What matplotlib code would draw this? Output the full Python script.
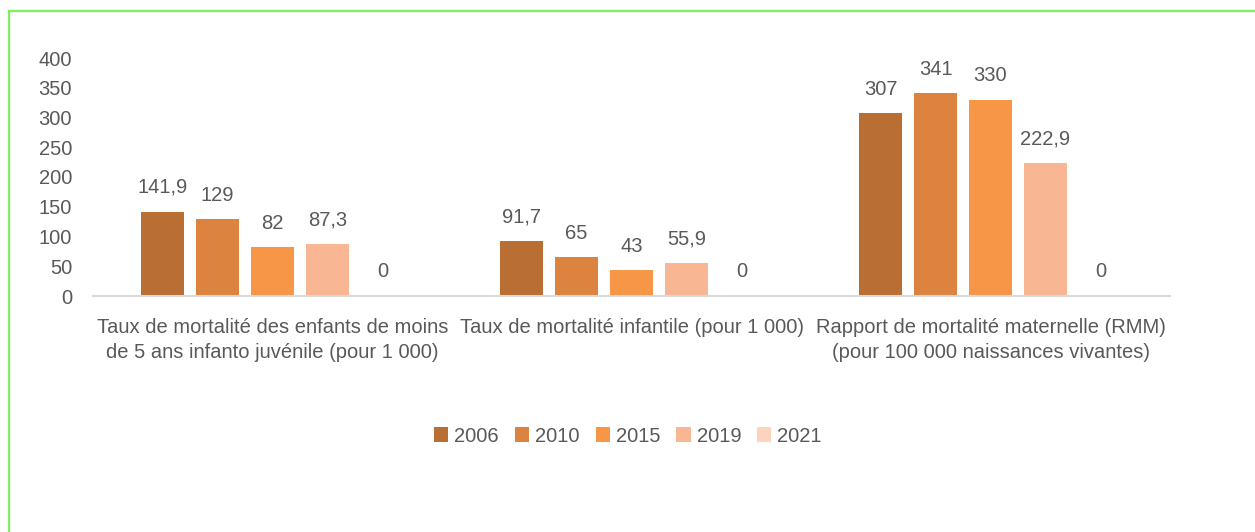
import matplotlib
matplotlib.use("Agg")
import matplotlib.pyplot as plt
from matplotlib.lines import Line2D
from matplotlib.patches import Patch
import numpy as np

categories = [
    "Taux de mortalité des enfants de moins\nde 5 ans infanto juvénile (pour 1 000)",
    "Taux de mortalité infantile (pour 1 000)",
    "Rapport de mortalité maternelle (RMM)\n(pour 100 000 naissances vivantes)",
]
years = ["2006", "2010", "2015", "2019", "2021"]
values = {
    "2006": [141.9, 91.7, 307],
    "2010": [129, 65, 341],
    "2015": [82, 43, 330],
    "2019": [87.3, 55.9, 222.9],
    "2021": [0, 0, 0],
}
yticks = [0, 50, 100, 150, 200, 250, 300, 350, 400]
colors = ["#B96F34", "#DB833F", "#F79646", "#F9B692", "#FCD3BF"]

plt.rcParams['font.family'] = ['Liberation Sans', 'DejaVu Sans']
txt = "#595959"

fig = plt.figure(figsize=(12.55, 5.32), dpi=100)
ax = fig.add_axes([93/1255, 1-296/532, (1170-93)/1255, (296-58)/532])

x = np.arange(len(categories))
w = 0.12
step = 0.153
for i, y in enumerate(years):
    pos = x + (i - 2) * step
    ax.bar(pos, values[y], width=w, color=colors[i], label=y, zorder=2)
    for xp, v in zip(pos, values[y]):
        s = (f"{v:g}").replace(".", ",")
        ax.annotate(s, (xp, v), xytext=(0, 10.5), textcoords="offset points",
                    ha="center", va="bottom", fontsize=14.5, color=txt)

ax.set_xlim(-0.5, 2.5)
ax.set_ylim(0, 400)
ax.set_yticks(yticks)
ax.set_yticklabels([str(t) for t in yticks], fontsize=14.5, color=txt)
ax.set_xticks(x)
ax.set_xticklabels(categories, fontsize=14.5, color=txt, linespacing=1.4)
ax.tick_params(axis="both", length=0)
ax.tick_params(axis="y", pad=15)
ax.tick_params(axis="x", pad=16)
for sp in ["top", "right", "left"]:
    ax.spines[sp].set_visible(False)
ax.spines["bottom"].set_color("#D9D9D9")
ax.spines["bottom"].set_linewidth(1.5)

handles = [Patch(facecolor=c, edgecolor="none") for c in colors]
fig.legend(handles, years, loc="center", bbox_to_anchor=(628/1255, 1-436/532),
           ncol=5, frameon=False, fontsize=14.5, handlelength=0.7, handleheight=0.7,
           handletextpad=0.3, columnspacing=0.8, labelcolor=txt)

green = "#7CF35C"
fig.add_artist(Line2D([8.5/1255, 8.5/1255], [0, 1-10.5/532], color=green, lw=1.6,
                      transform=fig.transFigure))
fig.add_artist(Line2D([8.5/1255, 1.0], [1-10.5/532, 1-10.5/532], color=green, lw=1.6,
                      transform=fig.transFigure))

fig.savefig("out.png", dpi=100)
